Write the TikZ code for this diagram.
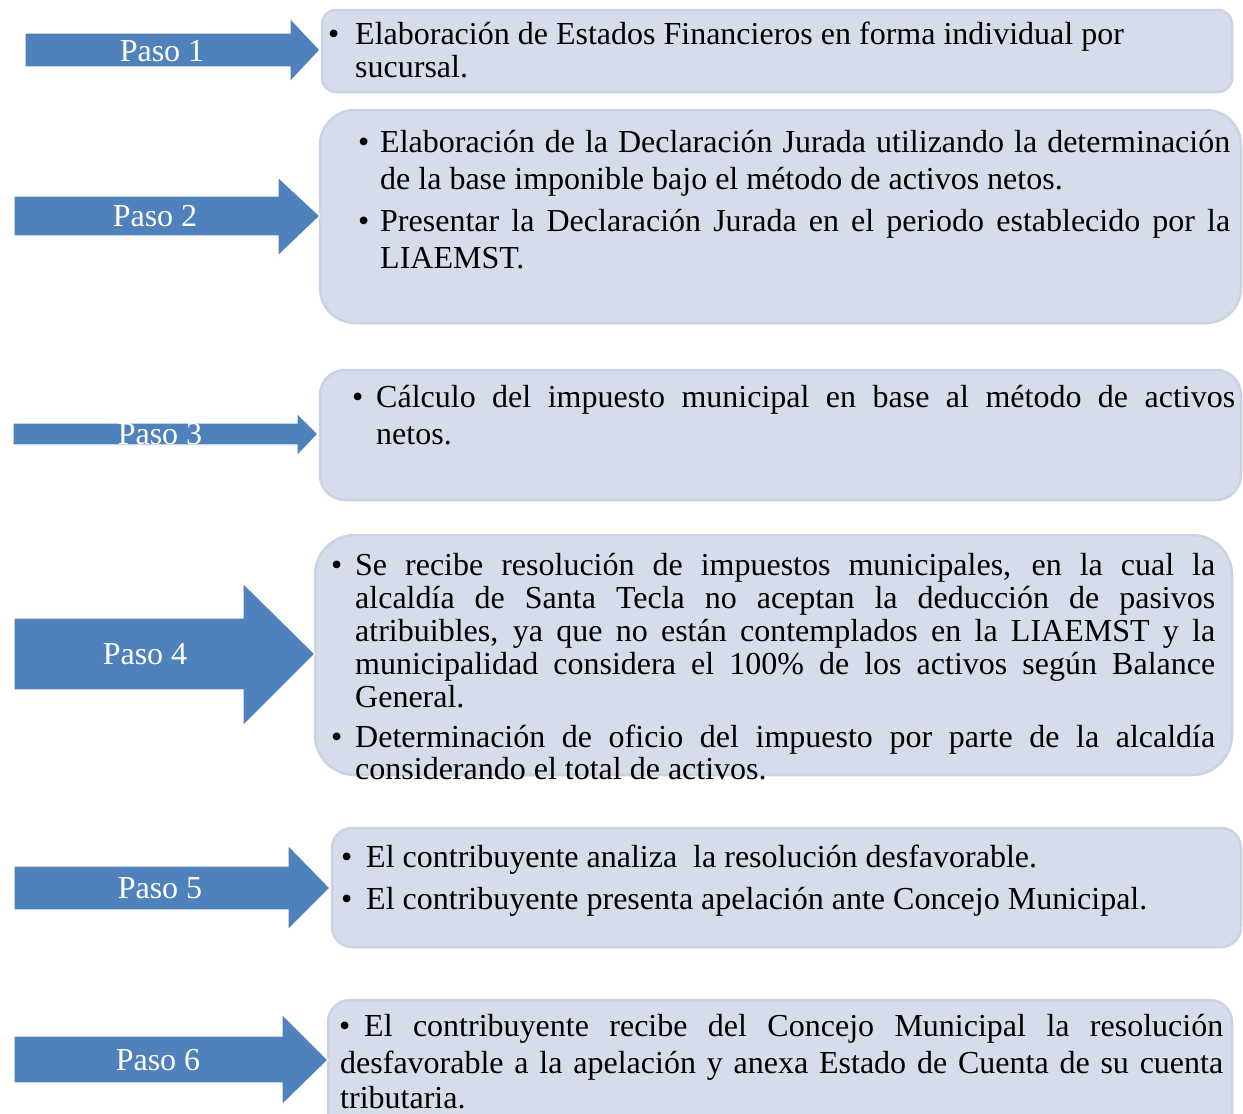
\documentclass[tikz,border=0pt]{standalone}
\usepackage{fontspec}
\setmainfont{Liberation Serif}
\definecolor{arrowblue}{HTML}{4F81BD}
\definecolor{boxfill}{HTML}{D6DCE9}
\definecolor{boxline}{HTML}{CAD3E6}
\begin{document}
\begin{tikzpicture}[x=1pt,y=-1pt,
  box/.style={draw=boxline, fill=boxfill, line width=2.5pt, anchor=north west, inner sep=0pt, outer sep=0pt},
  steparrow/.style={fill=arrowblue, draw=white, line width=1.2pt, line join=miter},
  lbl/.style={text=white, anchor=base, inner sep=0pt, font=\fontsize{32}{35}\selectfont},
  txt/.style={anchor=base west, inner sep=0pt, font=\fontsize{32}{35}\selectfont},
]
\useasboundingbox (0,0) rectangle (1243,1114);
% boxes
\node[box, rounded corners=14pt, minimum width=910pt, minimum height=82pt] (b1) at (322,10) {};
\node[box, rounded corners=35pt, minimum width=921pt, minimum height=213pt] (b2) at (320,110) {};
\node[box, rounded corners=25pt, minimum width=921pt, minimum height=130pt] (b3) at (320,370) {};
\node[box, rounded corners=40pt, minimum width=917pt, minimum height=240pt] (b4) at (315,535) {};
\node[box, rounded corners=20pt, minimum width=909pt, minimum height=119pt] (b5) at (332,828) {};
\node[box, rounded corners=22pt, minimum width=904pt, minimum height=140pt] (b6) at (328,1000) {};
% arrows
\path[steparrow] (25,33) -- (290,33) -- (290,18) -- (320,50) -- (290,82) -- (290,67) -- (25,67) -- cycle;
\path[steparrow] (14,196) -- (278,196) -- (278,177) -- (320,216) -- (278,256) -- (278,236) -- (14,236) -- cycle;
\path[steparrow] (13,423) -- (297,423) -- (297,413) -- (318,434) -- (297,456) -- (297,445) -- (13,445) -- cycle;
\path[steparrow] (14,618) -- (243,618) -- (243,583) -- (315,654) -- (243,726) -- (243,690) -- (14,690) -- cycle;
\path[steparrow] (14,866) -- (288,866) -- (288,845) -- (330,888) -- (288,930) -- (288,910) -- (14,910) -- cycle;
\path[steparrow] (14,1036) -- (282,1036) -- (282,1014) -- (328,1060) -- (282,1105) -- (282,1083) -- (14,1083) -- cycle;
% labels
\node[lbl] (p1) at (162,61) {Paso 1};
\node[lbl] (p2) at (155,226) {Paso 2};
\node[lbl] (p3) at (160,444) {Paso 3};
\node[lbl] (p4) at (145,664) {Paso 4};
\node[lbl] (p5) at (160,898) {Paso 5};
\node[lbl] (p6) at (158,1070) {Paso 6};
% box 1 text
\node[txt] (t1b) at (328,44) {•};
\node[txt] (t1a) at (355,44) {Elaboración de Estados Financieros en forma individual por};
\node[txt] (t1c) at (355,77) {sucursal.};
% box 2 text
\node[txt] (t2b1) at (358,152) {•};
\node[txt] (t2a) at (380,152) {\makebox[850pt][s]{Elaboración de la Declaración Jurada utilizando la determinación}};
\node[txt] (t2c) at (380,189) {de la base imponible bajo el método de activos netos.};
\node[txt] (t2b2) at (358,231) {•};
\node[txt] (t2d) at (380,231) {\makebox[850pt][s]{Presentar la Declaración Jurada en el periodo establecido por la}};
\node[txt] (t2e) at (380,268) {LIAEMST.};
% box 3 text
\node[txt] (t3b) at (352,407) {•};
\node[txt] (t3a) at (376,407) {\makebox[859pt][s]{Cálculo del impuesto municipal en base al método de activos}};
\node[txt] (t3c) at (376,444) {netos.};
% box 4 text
\node[txt] (t4b1) at (331,575) {•};
\node[txt] (t4a) at (355,575) {\makebox[860pt][s]{Se recibe resolución de impuestos municipales, en la cual la}};
\node[txt] (t4c) at (355,608) {\makebox[860pt][s]{alcaldía de Santa Tecla no aceptan la deducción de pasivos}};
\node[txt] (t4d) at (355,641) {\makebox[860pt][s]{atribuibles, ya que no están contemplados en la LIAEMST y la}};
\node[txt] (t4e) at (355,674) {\makebox[860pt][s]{municipalidad considera el 100\% de los activos según Balance}};
\node[txt] (t4f) at (355,707) {General.};
\node[txt] (t4b2) at (331,747) {•};
\node[txt] (t4g) at (355,747) {\makebox[860pt][s]{Determinación de oficio del impuesto por parte de la alcaldía}};
\node[txt] (t4h) at (355,779) {considerando el total de activos.};
% box 5 text
\node[txt] (t5b1) at (341,867) {•};
\node[txt] (t5a) at (366,867) {El contribuyente analiza\ \ la resolución desfavorable.};
\node[txt] (t5b2) at (341,909) {•};
\node[txt] (t5c) at (366,909) {El contribuyente presenta apelación ante Concejo Municipal.};
% box 6 text
\node[txt] (t6b) at (339,1036) {•};
\node[txt] (t6a) at (364,1036) {\makebox[859pt][s]{El contribuyente recibe del Concejo Municipal la resolución}};
\node[txt] (t6c) at (340,1073) {\makebox[883pt][s]{desfavorable a la apelación y anexa Estado de Cuenta de su cuenta}};
\node[txt] (t6d) at (340,1108) {tributaria.};
\end{tikzpicture}
\end{document}
